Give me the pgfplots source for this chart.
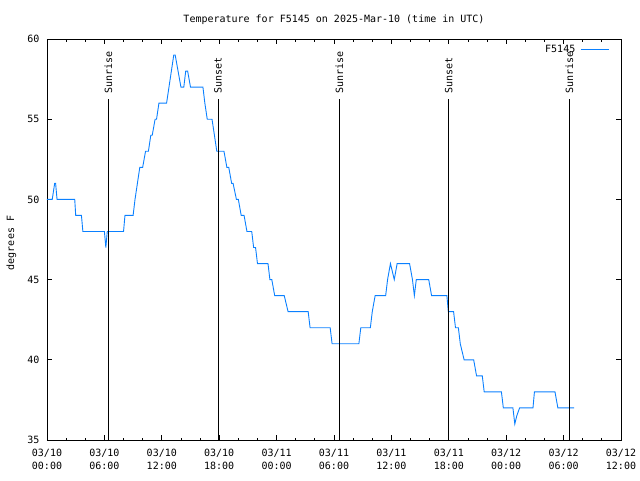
\documentclass[border=0pt]{standalone}
\usepackage{fontspec}
\setmainfont{DejaVu Sans Mono}
\usepackage{pgfplots}
\pgfplotsset{compat=1.18}
\definecolor{tempblue}{HTML}{0A80FF}
\begin{document}
\begin{tikzpicture}[font=\fontsize{10}{12}\selectfont]
\path[use as bounding box] (0pt,0pt) rectangle (640pt,480pt);
\begin{axis}[
  at={(47pt,40pt)}, anchor=south west,
  scale only axis, width=574pt, height=401pt,
  xmin=0, xmax=60, ymin=35, ymax=60,
  xtick={0,6,...,60},
  xticklabels={{03/10\\00:00},{03/10\\06:00},{03/10\\12:00},{03/10\\18:00},{03/11\\00:00},{03/11\\06:00},{03/11\\12:00},{03/11\\18:00},{03/12\\00:00},{03/12\\06:00},{03/12\\12:00}},
  xticklabel style={align=center, font=\fontsize{10}{13}\selectfont, yshift=-6pt},
  yticklabel style={xshift=-4pt},
  minor x tick num=2,
  ytick={35,40,45,50,55,60},
  yticklabels={35,40,45,50,55,60},
  tick align=inside,
  major tick length=5pt, minor tick length=2.5pt,
  every tick/.style={black, line width=0.8pt},
  axis line style={black, line width=0.8pt},
  legend plot pos=right,
  legend style={draw=none, fill=none, at={(rel axis cs:0.985,0.995)}, anchor=north east, font=\fontsize{10}{12}\selectfont, column sep=3pt},
  legend image code/.code={\draw[#1] (0pt,0pt) -- (28pt,0pt);},
  clip=false,
]
\addplot[tempblue, line width=0.9pt] coordinates {
(0,50) (0.55,50) (0.8,51) (0.9,51) (1.05,50) (2.9,50) (3.0,49) (3.6,49) (3.75,48) (6.0,48) (6.15,47) (6.3,48) (8.0,48) (8.15,49) (9.0,49) (9.2,50) (9.45,51) (9.7,52) (10.0,52) (10.3,53) (10.6,53) (10.85,54) (11.0,54) (11.3,55) (11.45,55) (11.7,56) (12.5,56) (12.75,57) (13.0,58) (13.25,59) (13.4,59) (13.7,58) (14.0,57) (14.3,57) (14.5,58) (14.7,58) (15.0,57) (16.3,57) (16.5,56) (16.75,55) (17.25,55) (17.5,54) (17.75,53) (18.5,53) (18.8,52) (19.0,52) (19.3,51) (19.45,51) (19.8,50) (20.0,50) (20.3,49) (20.6,49) (20.9,48) (21.4,48) (21.6,47) (21.8,47) (22.0,46) (23.1,46) (23.3,45) (23.5,45) (23.8,44) (24.8,44) (25.2,43) (27.3,43) (27.5,42) (29.6,42) (29.8,41) (32.6,41) (32.8,42) (33.8,42) (34.0,43) (34.3,44) (35.4,44) (35.6,45) (35.9,46) (36.3,45) (36.6,46) (37.9,46) (38.2,45) (38.4,44) (38.6,45) (39.9,45) (40.2,44) (41.8,44) (41.95,43) (42.5,43) (42.7,42) (43.0,42) (43.2,41) (43.6,40) (44.6,40) (44.9,39) (45.5,39) (45.7,38) (47.5,38) (47.7,37) (48.7,37) (48.9,36) (49.1,36.5) (49.4,37) (50.8,37) (50.95,38) (53.1,38) (53.4,37) (55.1,37)
};
\addlegendentry{F5145}
\addplot[black, line width=0.8pt, forget plot] coordinates {(6.43,35) (6.43,56.24)};
\addplot[black, line width=0.8pt, forget plot] coordinates {(17.87,35) (17.87,56.24)};
\addplot[black, line width=0.8pt, forget plot] coordinates {(30.57,35) (30.57,56.24)};
\addplot[black, line width=0.8pt, forget plot] coordinates {(42.0,35) (42.0,56.24)};
\addplot[black, line width=0.8pt, forget plot] coordinates {(54.6,35) (54.6,56.24)};
\node[rotate=90, anchor=west, inner sep=1pt] at (axis cs:6.43,56.5) {Sunrise};
\node[rotate=90, anchor=west, inner sep=1pt] at (axis cs:17.87,56.5) {Sunset};
\node[rotate=90, anchor=west, inner sep=1pt] at (axis cs:30.57,56.5) {Sunrise};
\node[rotate=90, anchor=west, inner sep=1pt] at (axis cs:42.0,56.5) {Sunset};
\node[rotate=90, anchor=west, inner sep=1pt] at (axis cs:54.6,56.5) {Sunrise};
\end{axis}
\node at (334pt,460pt) {Temperature for F5145 on 2025-Mar-10 (time in UTC)};
\node[rotate=90] at (11.5pt,237pt) {degrees F};
\end{tikzpicture}
\end{document}
